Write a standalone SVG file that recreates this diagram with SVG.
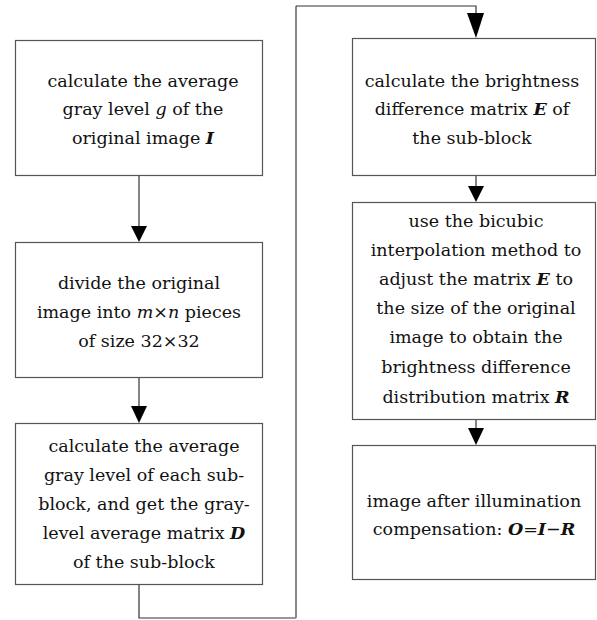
<svg xmlns="http://www.w3.org/2000/svg" width="597" height="620" viewBox="0 0 597 620">
<defs>
<style>
.box{fill:#fff;stroke:#555;stroke-width:1.2}
.ln{fill:none;stroke:#333;stroke-width:1.2}
.ah{fill:#000}
text{font-family:"DejaVu Serif","Liberation Serif",serif;font-size:17.5px;fill:#111;text-anchor:middle}
.i{font-style:italic}
.bi{font-style:italic;font-weight:bold}
</style>
</defs>
<rect width="597" height="620" fill="#fff"/>
<g id="connectors">
<line class="ln" x1="139" y1="176" x2="139" y2="228"/>
<polygon class="ah" points="131,226 147,226 139,242"/>
<line class="ln" x1="139" y1="378" x2="139" y2="408"/>
<polygon class="ah" points="131,406 147,406 139,423"/>
<polyline class="ln" points="139,585 139,618 296,618"/>
<line x1="296" y1="618" x2="296" y2="6" stroke="#888" stroke-width="2"/>
<polyline class="ln" points="296,6 476,6 476,16"/>
<polygon class="ah" points="467,13 484,13 476,38"/>
<line class="ln" x1="476" y1="176" x2="476" y2="188"/>
<polygon class="ah" points="468,186 484,186 476,202"/>
<line class="ln" x1="476" y1="419" x2="476" y2="430"/>
<polygon class="ah" points="468,428 484,428 476,445"/>
</g>
<g id="n1">
<rect class="box" x="15.5" y="40.5" width="247" height="135"/>
<text x="143" y="87">calculate the average</text>
<text x="143" y="115">gray level <tspan class="i">g</tspan> of the</text>
<text x="143" y="144">original image <tspan class="bi">I</tspan></text>
</g>
<g id="n2">
<rect class="box" x="15.5" y="242.5" width="247" height="135"/>
<text x="139" y="289">divide the original</text>
<text x="139" y="318">image into <tspan class="i">m</tspan>×<tspan class="i">n</tspan> pieces</text>
<text x="139" y="347">of size 32×32</text>
</g>
<g id="n3">
<rect class="box" x="15.5" y="423.5" width="247" height="161"/>
<text x="144" y="452">calculate the average</text>
<text x="144" y="481">gray level of each sub-</text>
<text x="144" y="510">block, and get the gray-</text>
<text x="144" y="539">level average matrix <tspan class="bi">D</tspan></text>
<text x="144" y="568">of the sub-block</text>
</g>
<g id="n4">
<rect class="box" x="352.5" y="38.5" width="243" height="137"/>
<text x="472" y="87">calculate the brightness</text>
<text x="472" y="115">difference matrix <tspan class="bi">E</tspan> of</text>
<text x="472" y="144">the sub-block</text>
</g>
<g id="n5">
<rect class="box" x="352.5" y="202.5" width="243" height="217"/>
<text x="476" y="227">use the bicubic</text>
<text x="476" y="256">interpolation method to</text>
<text x="476" y="285">adjust the matrix <tspan class="bi">E</tspan> to</text>
<text x="476" y="314">the size of the original</text>
<text x="476" y="343">image to obtain the</text>
<text x="476" y="373">brightness difference</text>
<text x="476" y="403">distribution matrix <tspan class="bi">R</tspan></text>
</g>
<g id="n6">
<rect class="box" x="352.5" y="445.5" width="243" height="134"/>
<text x="474" y="507">image after illumination</text>
<text x="474" y="535">compensation: <tspan class="bi">O</tspan>=<tspan class="bi">I</tspan>−<tspan class="bi">R</tspan></text>
</g>
</svg>
